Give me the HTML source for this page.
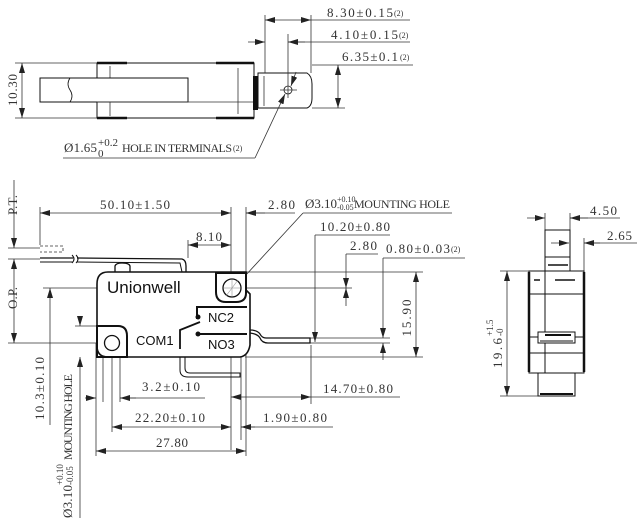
<!DOCTYPE html>
<html><head><meta charset="utf-8"><style>
html,body{margin:0;padding:0;background:#fff;}
svg{display:block;font-family:"Liberation Serif","Noto Serif CJK SC",serif;font-size:13px;}
text{fill:#333;}
.s{font-family:"Liberation Sans",sans-serif;fill:#111;}
</style></head><body>
<svg width="640" height="526" viewBox="0 0 640 526" xmlns="http://www.w3.org/2000/svg">
<defs>
<marker id="a" viewBox="0 0 10 6" refX="10" refY="3" markerWidth="10" markerHeight="6" orient="auto-start-reverse" markerUnits="userSpaceOnUse"><path d="M0,0L10,3L0,6z" fill="#222"/></marker>
</defs>
<g stroke="#333" stroke-width="0.8" fill="none">
<!-- TOP VIEW -->
<line x1="15" y1="63" x2="97" y2="63"/><line x1="15" y1="118" x2="97" y2="118"/>
<line x1="22" y1="63" x2="22" y2="118" marker-start="url(#a)" marker-end="url(#a)"/>
<rect x="97" y="63" width="157" height="55" stroke="#111" stroke-width="1"/>
<line x1="97" y1="63" x2="127" y2="63" stroke="#111" stroke-width="2.5"/><line x1="216" y1="63" x2="254" y2="63" stroke="#111" stroke-width="2.5"/>
<line x1="97" y1="118" x2="127" y2="118" stroke="#111" stroke-width="2.5"/><line x1="216" y1="118" x2="254" y2="118" stroke="#111" stroke-width="2.5"/>
<line x1="110" y1="66" x2="110" y2="116"/><line x1="238" y1="68" x2="238" y2="114"/>
<rect x="40" y="78" width="148" height="24" stroke="#111" stroke-width="1" fill="#fff"/>
<path d="M70,78 q-4,6 0,12 q4,6 0,12" stroke="#111"/>
<line x1="97" y1="102" x2="254" y2="102"/>
<rect x="253" y="76" width="5" height="34" fill="#111" stroke="none"/>
<path d="M258,73 L307,73 Q312,76 312,84 L312,98 Q312,106 307,108 L258,108Z" stroke="#111" stroke-width="1"/>
<line x1="264" y1="76" x2="264" y2="106"/>
<circle cx="288" cy="90" r="4" stroke="#111"/>
<line x1="280" y1="90" x2="297" y2="90"/><line x1="288" y1="82" x2="288" y2="98"/>
<line x1="265" y1="15" x2="265" y2="73"/><line x1="311" y1="15" x2="311" y2="73"/>
<line x1="265" y1="20" x2="311" y2="20" marker-start="url(#a)" marker-end="url(#a)"/>
<line x1="311" y1="20" x2="410" y2="20"/>
<line x1="288" y1="34" x2="288" y2="82"/>
<line x1="248" y1="42" x2="265" y2="42" marker-end="url(#a)"/>
<line x1="288" y1="42" x2="410" y2="42"/><line x1="305" y1="42" x2="288" y2="42" marker-end="url(#a)"/>
<line x1="312" y1="65" x2="413" y2="65"/><line x1="312" y1="108" x2="345" y2="108"/>
<line x1="338" y1="65" x2="338" y2="108" marker-start="url(#a)" marker-end="url(#a)"/>
<line x1="296" y1="72" x2="291" y2="86" marker-end="url(#a)"/>
<line x1="255" y1="158" x2="285" y2="94" marker-end="url(#a)"/>
<line x1="63" y1="158" x2="255" y2="158"/>
<!-- SIDE VIEW dims -->
<line x1="14" y1="180" x2="14" y2="248" marker-end="url(#a)"/>
<line x1="14" y1="259" x2="14" y2="343" marker-start="url(#a)" marker-end="url(#a)"/>
<line x1="8" y1="248" x2="40" y2="248"/><line x1="8" y1="259" x2="40" y2="259"/>
<line x1="8" y1="343" x2="110" y2="343"/>
<line x1="40" y1="207" x2="40" y2="245"/>
<line x1="40" y1="213" x2="231" y2="213" marker-start="url(#a)" marker-end="url(#a)"/>
<line x1="231" y1="207" x2="231" y2="450"/><line x1="246" y1="207" x2="246" y2="456"/>
<line x1="246" y1="213" x2="295" y2="213"/><line x1="265" y1="213" x2="246" y2="213" marker-end="url(#a)"/>
<line x1="245" y1="276" x2="303" y2="213"/><line x1="303" y1="213" x2="452" y2="213"/>
<line x1="188" y1="240" x2="188" y2="258"/>
<line x1="188" y1="245" x2="231" y2="245" marker-start="url(#a)" marker-end="url(#a)"/>
<line x1="315" y1="235" x2="390" y2="235"/><line x1="315" y1="235" x2="315" y2="342" marker-end="url(#a)"/>
<line x1="346" y1="254" x2="378" y2="254"/>
<line x1="346" y1="254" x2="346" y2="288" marker-end="url(#a)"/>
<line x1="346" y1="306" x2="346" y2="288" marker-end="url(#a)"/>
<line x1="383" y1="258" x2="465" y2="258"/>
<line x1="383" y1="258" x2="383" y2="338" marker-end="url(#a)"/>
<line x1="383" y1="360" x2="383" y2="343" marker-end="url(#a)"/>
<line x1="310" y1="338" x2="390" y2="338"/><line x1="310" y1="343" x2="390" y2="343"/>
<line x1="245" y1="272" x2="423" y2="272"/><line x1="245" y1="357" x2="423" y2="357"/>
<line x1="416" y1="272" x2="416" y2="357" marker-start="url(#a)" marker-end="url(#a)"/>
<line x1="43" y1="288" x2="352" y2="288"/>
<line x1="50" y1="288" x2="50" y2="425" marker-start="url(#a)"/>
<line x1="75" y1="326" x2="127" y2="326"/>
<line x1="80" y1="318" x2="80" y2="326" marker-end="url(#a)"/>
<line x1="80" y1="518" x2="80" y2="357" marker-end="url(#a)"/>
<!-- lower dims -->
<line x1="96" y1="343" x2="96" y2="456"/><line x1="103" y1="343" x2="103" y2="402"/>
<line x1="120" y1="343" x2="120" y2="402"/><line x1="112" y1="343" x2="112" y2="432"/>
<line x1="241" y1="345" x2="241" y2="440"/><line x1="311" y1="345" x2="311" y2="404"/>
<line x1="85" y1="398" x2="96" y2="398" marker-end="url(#a)"/>
<line x1="205" y1="398" x2="120" y2="398"/><line x1="136" y1="398" x2="120" y2="398" marker-end="url(#a)"/>
<line x1="112" y1="427" x2="231" y2="427" marker-start="url(#a)" marker-end="url(#a)"/>
<line x1="241" y1="427" x2="333" y2="427"/><line x1="255" y1="427" x2="241" y2="427" marker-end="url(#a)"/>
<line x1="96" y1="451" x2="246" y2="451" marker-start="url(#a)" marker-end="url(#a)"/>
<line x1="231" y1="397" x2="311" y2="397" marker-start="url(#a)" marker-end="url(#a)"/>
<line x1="311" y1="397" x2="400" y2="397"/>
<!-- SIDE VIEW part -->
<g stroke="#111" stroke-width="1.3">
<path d="M40,258 L73,258 M77,258 L182,259 Q186,260 186,266 L186,272" />
<path d="M40,262 L73,262 M77,262 L180,263 L182,272" stroke-width="1"/>
<path d="M72,255 q4,4 0,8 M76,255 q4,4 0,8" stroke-width="1"/>
<path d="M115,272 L115,266 Q116,263 122,263 Q129,263 130,266 L130,272"/>
<path d="M108,272 L246,272 L246,290 L250,294 L250,345 Q248,356 240,357 L108,357 Q97,357 97,346 L97,284 Q97,272 108,272Z" stroke-width="1.6" fill="#fff"/>
<path d="M216,273 L246,273 L246,293 Q246,302 236,302 L226,302 Q216,302 216,292Z" stroke-width="2"/>
<circle cx="232" cy="288" r="9"/>
<path d="M97,326 L118,326 Q127,326 127,336 L127,357 L97,357Z" stroke-width="2"/>
<circle cx="112" cy="343" r="7.5"/>
<path d="M197,319 L197,307 L247,307" stroke-width="2"/>
<line x1="198" y1="334" x2="247" y2="334" stroke-width="2"/>
<path d="M180,349 L180,330 L200,322" stroke-width="1.8"/>
<path d="M250,333 Q258,334 260,338 Q262,343 268,343 L310,343 L310,338 L266,338 Q262,338 260,334 Q257,330 250,330"/>
<path d="M180,357 L180,370 Q180,377 188,377 L240,377 L240,373 L190,373 Q185,373 185,368 L185,357" stroke-width="1"/>
</g>
<circle cx="198" cy="317" r="2.5" fill="#111" stroke="none"/>
<circle cx="198" cy="334" r="2.5" fill="#111" stroke="none"/>
<path d="M40,246 L63,246 L63,252 L40,252" stroke-dasharray="3,2"/>
<g stroke="#999" stroke-width="0.6"><line x1="224" y1="288" x2="240" y2="288"/><line x1="232" y1="280" x2="232" y2="296"/><line x1="226" y1="296" x2="238" y2="280"/></g>
<!-- RIGHT VIEW -->
<line x1="545" y1="213" x2="545" y2="230"/><line x1="570" y1="213" x2="570" y2="230"/>
<line x1="527" y1="218" x2="545" y2="218" marker-end="url(#a)"/>
<line x1="620" y1="218" x2="570" y2="218"/><line x1="588" y1="218" x2="570" y2="218" marker-end="url(#a)"/>
<line x1="551" y1="243" x2="569" y2="243" marker-end="url(#a)"/>
<line x1="637" y1="243" x2="584" y2="243"/><line x1="600" y1="243" x2="584" y2="243" marker-end="url(#a)"/>
<line x1="584" y1="238" x2="584" y2="271"/>
<line x1="500" y1="271" x2="529" y2="271"/><line x1="500" y1="396" x2="538" y2="396"/>
<line x1="507" y1="271" x2="507" y2="396" marker-start="url(#a)" marker-end="url(#a)"/>
<g stroke="#111" stroke-width="1">
<rect x="545" y="230" width="25" height="41"/>
<line x1="545" y1="257" x2="570" y2="257"/><line x1="548" y1="265" x2="568" y2="265" stroke-width="1.5"/>
<rect x="529" y="271" width="55" height="102"/>
<line x1="529" y1="272" x2="529" y2="372" stroke-width="2.5"/><line x1="584" y1="272" x2="584" y2="372" stroke-width="2.5"/>
<line x1="545" y1="271" x2="545" y2="373"/>
<line x1="534" y1="280" x2="540" y2="280" stroke-width="1.5"/><line x1="555" y1="280" x2="575" y2="280" stroke-width="1.5"/>
<line x1="529" y1="294" x2="584" y2="294"/><line x1="529" y1="337" x2="584" y2="337"/><line x1="529" y1="353" x2="584" y2="353"/>
<rect x="538" y="332" width="37" height="11" fill="#fff"/><line x1="545" y1="335" x2="571" y2="335" stroke-width="2"/><line x1="540" y1="341" x2="573" y2="341"/>
<rect x="538" y="373" width="37" height="23"/><line x1="540" y1="394" x2="573" y2="394" stroke-width="2"/>
</g>
</g>
<!-- TEXT -->
<text x="327" y="17" textLength="66" lengthAdjust="spacing">8.30±0.15</text><text x="394" y="16" font-size="8">(2)</text>
<text x="331" y="39" textLength="67" lengthAdjust="spacing">4.10±0.15</text><text x="399" y="38" font-size="8">(2)</text>
<text x="342" y="61" textLength="56" lengthAdjust="spacing">6.35±0.1</text><text x="400" y="60" font-size="8">(2)</text>
<text transform="translate(17,90) rotate(-90)" text-anchor="middle" textLength="32" lengthAdjust="spacing">10.30</text>
<text x="64" y="152" textLength="33" lengthAdjust="spacing">Ø1.65</text><text x="98" y="146" font-size="11">+0.2</text><text x="98" y="157" font-size="11">0</text><text x="122" y="152" textLength="110" lengthAdjust="spacing" font-size="12">HOLE IN TERMINALS</text><text x="233" y="151" font-size="8">(2)</text>
<text transform="translate(17,205) rotate(-90)" text-anchor="middle" textLength="20" lengthAdjust="spacing">P.T.</text>
<text transform="translate(17,298) rotate(-90)" text-anchor="middle" textLength="22" lengthAdjust="spacing">O.P.</text>
<text x="100" y="209" textLength="70" lengthAdjust="spacing">50.10±1.50</text>
<text x="268" y="209" textLength="27" lengthAdjust="spacing">2.80</text>
<text x="305" y="208" textLength="32" lengthAdjust="spacing">Ø3.10</text><text x="337" y="202" font-size="8">+0.10</text><text x="337" y="210" font-size="8">-0.05</text><text x="354" y="208" font-size="12" textLength="96" lengthAdjust="spacing">MOUNTING HOLE</text>
<text x="196" y="241" textLength="26" lengthAdjust="spacing">8.10</text>
<text x="320" y="231" textLength="70" lengthAdjust="spacing">10.20±0.80</text>
<text x="350" y="250" textLength="27" lengthAdjust="spacing">2.80</text>
<text x="386" y="253" textLength="64" lengthAdjust="spacing">0.80±0.03</text><text x="451" y="252" font-size="8">(2)</text>
<text transform="translate(411,318) rotate(-90)" text-anchor="middle" textLength="37" lengthAdjust="spacing">15.90</text>
<text class="s" x="107" y="293" font-size="17">Unionwell</text>
<text class="s" x="208" y="322" font-size="13">NC2</text>
<text class="s" x="208" y="349" font-size="13">NO3</text>
<text class="s" x="136" y="345" font-size="13">COM1</text>
<text transform="translate(44,420) rotate(-90)" textLength="63" lengthAdjust="spacing">10.3±0.10</text>
<text transform="translate(72,518) rotate(-90)" textLength="33" lengthAdjust="spacing">Ø3.10</text>
<text transform="translate(63,485) rotate(-90)" font-size="9">+0.10</text>
<text transform="translate(73,485) rotate(-90)" font-size="9">-0.05</text>
<text transform="translate(72,460) rotate(-90)" font-size="12" textLength="86" lengthAdjust="spacing">MOUNTING HOLE</text>
<text x="142" y="391" textLength="58" lengthAdjust="spacing">3.2±0.10</text>
<text x="135" y="422" textLength="70" lengthAdjust="spacing">22.20±0.10</text>
<text x="263" y="422" textLength="64" lengthAdjust="spacing">1.90±0.80</text>
<text x="156" y="447" textLength="32" lengthAdjust="spacing">27.80</text>
<text x="323" y="393" textLength="70" lengthAdjust="spacing">14.70±0.80</text>
<text x="590" y="215" textLength="27" lengthAdjust="spacing">4.50</text>
<text x="607" y="240" textLength="25" lengthAdjust="spacing">2.65</text>
<text transform="translate(502,368) rotate(-90)" textLength="30" lengthAdjust="spacing">19.6</text><text transform="translate(493,336) rotate(-90)" font-size="9">+1.5</text><text transform="translate(503,336) rotate(-90)" font-size="9">-0</text>
</svg>
</body></html>
